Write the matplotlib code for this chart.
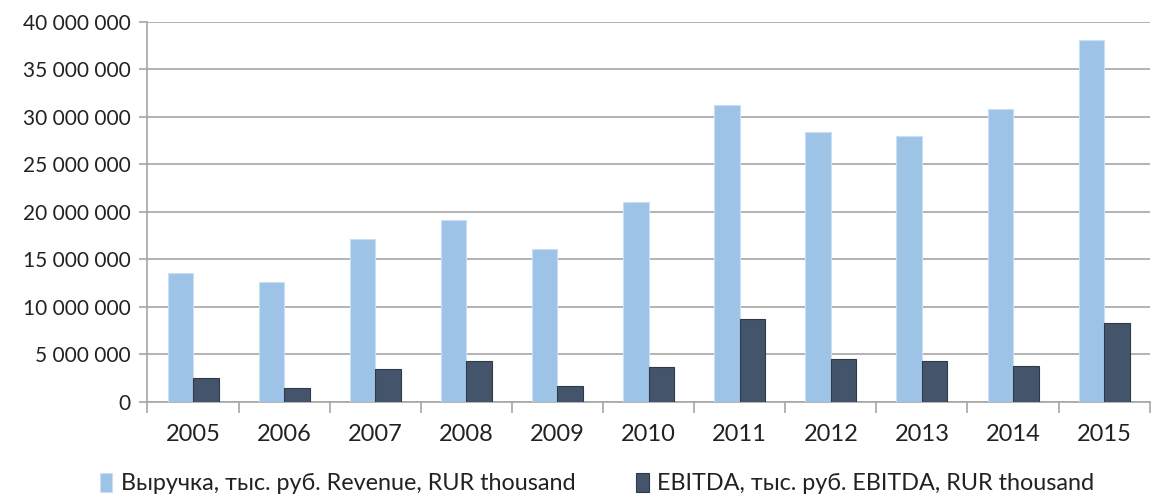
import matplotlib
matplotlib.use("Agg")
import matplotlib.pyplot as plt
import numpy as np
from matplotlib.ticker import FuncFormatter

plt.rcParams['font.family'] = ['Lato', 'DejaVu Sans']

years = ["2005", "2006", "2007", "2008", "2009", "2010", "2011", "2012", "2013", "2014", "2015"]
revenue = [13550000, 12670000, 17170000, 19180000, 16080000, 21040000,
           31240000, 28390000, 28000000, 30860000, 38070000]
ebitda = [2530000, 1410000, 3420000, 4300000, 1660000, 3630000,
          8730000, 4510000, 4260000, 3770000, 8270000]
labels = ["Выручка, тыс. руб. Revenue, RUR thousand",
          "EBITDA, тыс. руб. EBITDA, RUR thousand"]

fig = plt.figure(figsize=(11.52, 4.98), dpi=100)
ax = fig.add_axes([0.128, 0.193, 0.870, 0.763])

x = np.arange(len(years))
w = 0.28
ax.bar(x - w / 2, revenue, w, color="#9DC3E6", edgecolor="#C9DFF2", linewidth=0.8, label=labels[0], zorder=3)
ax.bar(x + w / 2, ebitda, w, color="#44546A", edgecolor="#2E3A4A", linewidth=0.8, label=labels[1], zorder=3)

ax.set_ylim(0, 40000000)
ax.set_yticks(np.arange(0, 40000001, 5000000))
ax.yaxis.set_major_formatter(FuncFormatter(lambda v, p: f"{int(v):,}".replace(",", " ")))
ax.set_xlim(-0.5, len(years) - 0.5)
ax.set_xticks(x)
ax.set_xticklabels(years)
ax.set_xticks(np.arange(-0.5, len(years)), minor=True)

ax.grid(axis="y", color="#A6A6A6", linewidth=1.2, zorder=0)
for s in ["top", "right"]:
    ax.spines[s].set_visible(False)
for s in ["left", "bottom"]:
    ax.spines[s].set_color("#A6A6A6")
    ax.spines[s].set_linewidth(1.2)

ax.tick_params(axis="y", length=6, color="#A6A6A6", width=1.2, labelsize=15, pad=6, labelcolor="#222222")
ax.tick_params(axis="x", which="major", length=0, labelsize=17, pad=16, labelcolor="#222222")
ax.tick_params(axis="x", which="minor", length=8, color="#A6A6A6", width=1.2)

fig.legend(loc="lower center", bbox_to_anchor=(0.518, -0.035), ncol=2, frameon=False,
           fontsize=16.8, handlelength=0.55, handleheight=0.85, handletextpad=0.35,
           columnspacing=2.6, labelcolor="#222222")

fig.savefig("out.png", dpi=100)
